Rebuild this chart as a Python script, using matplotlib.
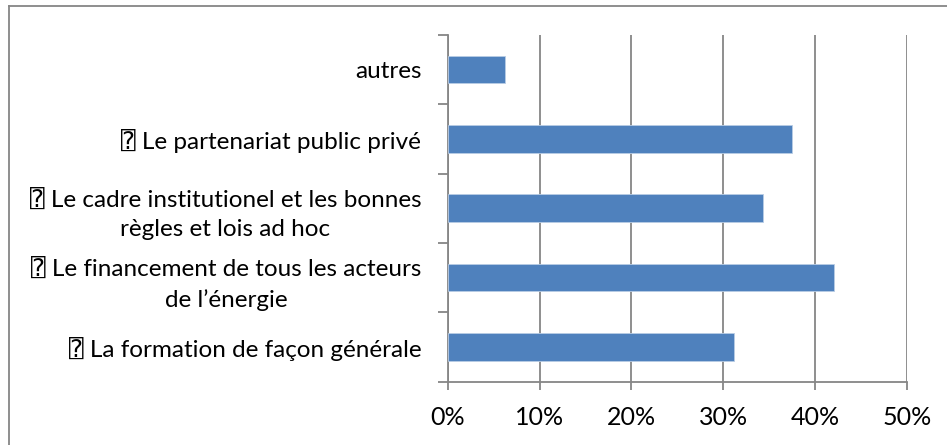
import matplotlib
matplotlib.use("Agg")
import matplotlib.pyplot as plt
from matplotlib.lines import Line2D
from matplotlib.ticker import PercentFormatter

plt.rcParams['font.family'] = ['Lato', 'DejaVu Sans', 'DejaVu Sans Mono']

categories = [
    "\u2370 La formation de façon générale",
    "\u2370 Le financement de tous les acteurs\nde l\u2019énergie",
    "\u2370 Le cadre institutionel et les bonnes\nrègles et lois ad hoc",
    "\u2370 Le partenariat public privé",
    "autres",
]
values = [31.2, 42.1, 34.3, 37.5, 6.2]
x_ticks = [0, 10, 20, 30, 40, 50]

W, H = 947, 445
fig = plt.figure(figsize=(W / 100, H / 100), dpi=100)
ax = fig.add_axes([447.7 / W, 1 - 381.7 / H, (907 - 447.7) / W, (381.7 - 34.7) / H])

grey = '#868686'
ypos = list(range(len(categories)))
ax.barh(ypos, values, height=0.4, color='#4F81BD', edgecolor='#B9CDE5', linewidth=0.6, zorder=3)

ax.set_xlim(0, 50)
ax.set_ylim(-0.5, len(categories) - 0.5)
ax.set_xticks(x_ticks)
ax.xaxis.set_major_formatter(PercentFormatter(decimals=0))
ax.grid(axis='x', color=grey, linewidth=1.3, zorder=0)

# category ticks at band boundaries, labels at centres
ax.set_yticks([i - 0.5 for i in range(len(categories) + 1)])
ax.set_yticklabels([])
ax.set_yticks(ypos, minor=True)
ax.set_yticklabels(categories, minor=True, fontsize=17.5, multialignment='center', linespacing=1.5)
ax.tick_params(axis='y', which='major', length=7, width=1.3, color=grey, direction='out')
ax.tick_params(axis='y', which='minor', length=0, pad=19)
ax.tick_params(axis='x', length=5.5, width=1.3, color=grey, labelsize=18, pad=12)

for s in ['top', 'right']:
    ax.spines[s].set_visible(False)
for s in ['left', 'bottom']:
    ax.spines[s].set_color(grey)
    ax.spines[s].set_linewidth(1.3)

# outer frame (top and left visible)
fig.add_artist(Line2D([8.5 / W, 8.5 / W], [0, 1 - 5.5 / H], transform=fig.transFigure, color=grey, linewidth=1.3))
fig.add_artist(Line2D([8.5 / W, 1], [1 - 5.5 / H, 1 - 5.5 / H], transform=fig.transFigure, color=grey, linewidth=1.3))

fig.savefig('out.png', dpi=100, facecolor='white')
